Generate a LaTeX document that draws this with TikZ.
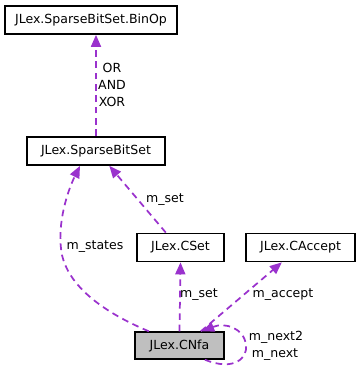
\documentclass[tikz,border=0pt]{standalone}
\usepackage{xcolor}
\usepackage{tikz}
\usetikzlibrary{arrows.meta, positioning}
\usepackage{fontspec}
\setmainfont{DejaVu Sans}
\definecolor{edgepurple}{RGB}{154,50,205}

\begin{document}
\begin{tikzpicture}[x=0.75pt, y=-0.75pt,
            cls/.style={draw, line width=1.3pt, rectangle, minimum height=21pt, inner sep=0pt, font=\fontsize{9.4}{11}\selectfont},
            rel/.style={draw=edgepurple, line width=1.3pt, dash pattern=on 5pt off 3.5pt, -{Triangle[length=9pt, width=7.5pt, fill=edgepurple]}},
            lbl/.style={font=\fontsize{9.4}{12.75}\selectfont, inner sep=0pt, align=center}]
            \useasboundingbox (0,0) rectangle (358,374);
            \node[cls, minimum width=129pt] (binop) at (91,20) {JLex.SparseBitSet.BinOp};
            \node[cls, minimum width=103.5pt] (sbs) at (96,151) {JLex.SparseBitSet};
            \node[cls, minimum width=65pt] (cset) at (180.5,247.5) {JLex.CSet};
            \node[cls, minimum width=82pt] (caccept) at (300.5,247.5) {JLex.CAccept};
            \node[cls, minimum width=66.5pt, minimum height=20pt, fill=black!25] (cnfa) at (179.5,345.5) {JLex.CNfa};

            \draw[rel] (sbs.north -| binop) ++(5,0) coordinate (b0) -- (b0 |- binop.south);
            \draw[rel] ([xshift=-23pt]cnfa.north) .. controls (110,315) and (70,290) .. (62,255)
                .. controls (56,225) and (68,190) .. ([xshift=-12pt]sbs.south);
            \draw[rel] ([xshift=-11pt]cset.north) -- ([xshift=10pt]sbs.south);
            \draw[rel] (cnfa.north) -- (cset.south);
            \draw[rel] ([xshift=16pt]cnfa.north) -- ([xshift=-14pt]caccept.south);
            \draw[rel] ([xshift=19pt]cnfa.south) .. controls (235,372) and (248,357) .. (246,345)
                .. controls (244,328) and (225,322) .. ([xshift=17pt]cnfa.north);

            \node[lbl] (ops) at (112,85) {OR\\AND\\XOR};
            \node[lbl] (lstates) at (95,247) {m\_states};
            \node[lbl] (lset1) at (165,200) {m\_set};
            \node[lbl] (lset2) at (199,295) {m\_set};
            \node[lbl] (laccept) at (283,295) {m\_accept};
            \node[lbl] (lnext2) at (276,337) {m\_next2};
            \node[lbl] (lnext) at (275,355) {m\_next};
        \end{tikzpicture}
\end{document}
